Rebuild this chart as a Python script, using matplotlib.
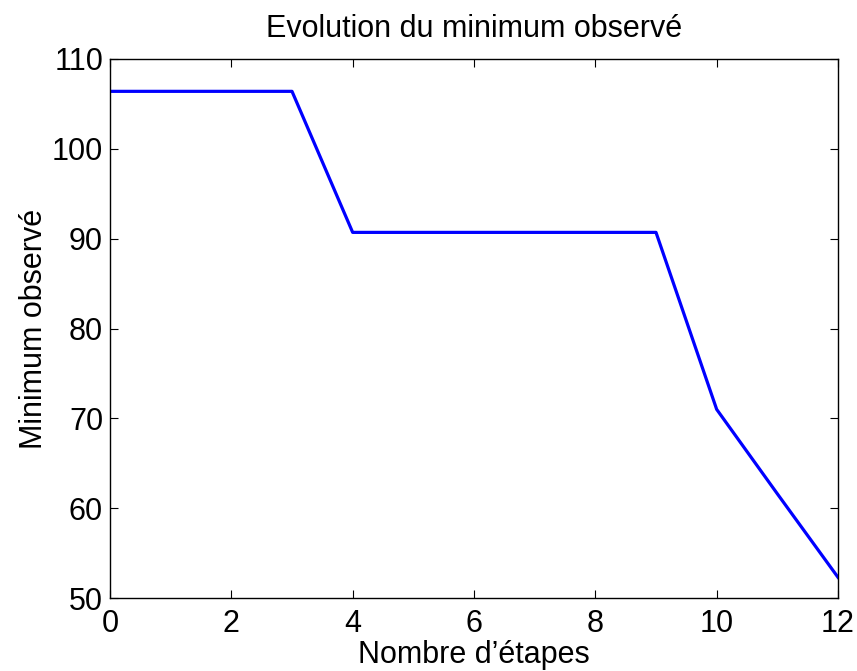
import matplotlib
matplotlib.use('Agg')
import matplotlib.pyplot as plt

plt.rcParams['font.family'] = ['Liberation Sans', 'DejaVu Sans']

etapes = [0, 1, 2, 3, 4, 5, 6, 7, 8, 9, 10, 11, 12]
minimum = [106.4, 106.4, 106.4, 106.4, 90.7, 90.7, 90.7, 90.7, 90.7, 90.7, 71.0, 61.6, 52.3]

fig = plt.figure(figsize=(8.57, 6.71), dpi=100)
ax = fig.add_axes([110 / 857, 1 - 598 / 671, 728 / 857, 539 / 671])

ax.plot(etapes, minimum, color='#0000ff', linewidth=2.3)

ax.set_xlim(0, 12)
ax.set_ylim(50, 110)
ax.set_xticks(range(0, 13, 2))
ax.set_yticks(range(50, 111, 10))
ax.tick_params(direction='in', top=True, right=True, labelsize=22, length=6, width=0.8)
ax.tick_params(axis='y', pad=5)
ax.tick_params(axis='x', pad=8)
for s in ax.spines.values():
    s.set_linewidth(1.0)

ax.set_title('Evolution du minimum observé', fontsize=22, pad=16)
ax.set_xlabel('Nombre d\u2019étapes', fontsize=22, labelpad=1)
ax.set_ylabel('Minimum observé', fontsize=22, labelpad=2)

fig.savefig('out.png', dpi=100)
